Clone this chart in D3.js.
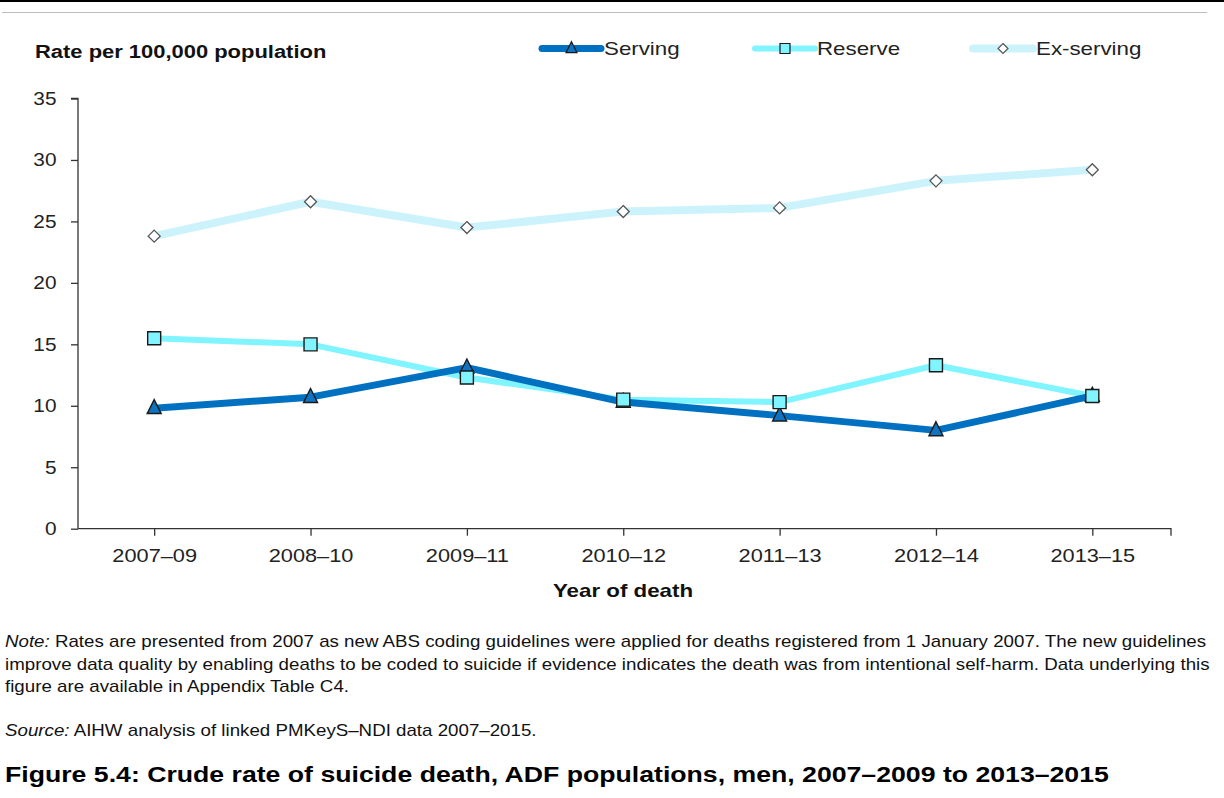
<!DOCTYPE html>
<html><head><meta charset="utf-8">
<script src="https://cdn.jsdelivr.net/npm/d3@7"></script>
<style>
html,body{margin:0;padding:0;background:#fff;}
svg{display:block;font-family:"Liberation Sans",Arial,sans-serif;}
</style></head>
<body>
<svg id="chart" width="1224" height="798"></svg>
<script>
const categories = ["2007–09","2008–10","2009–11","2010–12","2011–13","2012–14","2013–15"];
const serving   = [9.8, 10.7, 13.1, 10.3, 9.2, 8.0, 10.8];
const reserve   = [15.5, 15.0, 12.3, 10.5, 10.3, 13.3, 10.8];
const exServing = [23.8, 26.6, 24.5, 25.8, 26.1, 28.3, 29.2];
const yTicks = [0,5,10,15,20,25,30,35];
const seriesNames = ["Serving","Reserve","Ex-serving"];

(function(){
const svg = d3.select("#chart");
const W = 1224;
const pL = 78, pR = 1171, pT = 98.5, pB = 528.7;
const SX = 1.17;

const x = d3.scalePoint().domain(categories).range([76, 1170.5]).padding(0.5);
const y = d3.scaleLinear().domain([0,35]).range([pB, pT]);

// stretched text helper
function stext(parent, tx, ty, str, opts){
  const sx = opts.sx || SX;
  const t = parent.append("text")
    .attr("transform",`translate(${tx},${ty}) scale(${sx},1)`)
    .attr("font-size",opts.fs).attr("fill",opts.fill||"#111")
    .attr("text-anchor",opts.anchor||"start");
  if(opts.bold) t.attr("font-weight","bold");
  if(str!==null) t.text(str);
  return t;
}

// top rules
svg.append("rect").attr("x",0).attr("y",0).attr("width",W).attr("height",2).attr("fill","#000");
svg.append("line").attr("x1",2).attr("x2",1207).attr("y1",12.5).attr("y2",12.5).attr("stroke","#bdbdbd").attr("stroke-width",1.2);

// y axis
const yAxis = svg.append("g").attr("transform",`translate(${pL},0)`)
  .call(d3.axisLeft(y).tickValues(yTicks).tickSize(7).tickPadding(14).tickFormat(d3.format("d")));
yAxis.select(".domain").attr("stroke","#333").attr("stroke-width",1.3).attr("d",`M-7,${pT}H0V${pB}`);
yAxis.selectAll(".tick line").attr("stroke","#333").attr("stroke-width",1.3);
yAxis.selectAll(".tick text").attr("font-size",18.6).attr("fill","#222")
  .attr("font-family","Liberation Sans, Arial, sans-serif")
  .attr("x",-21.5/1.12).attr("transform","scale(1.12,1)");

// x axis
const xAxis = svg.append("g").attr("transform",`translate(0,${pB})`)
  .call(d3.axisBottom(x).tickSize(7).tickPadding(13));
xAxis.select(".domain").attr("stroke","#333").attr("stroke-width",1.3).attr("d",`M${pL},0H${pR}V7`);
xAxis.selectAll(".tick line").attr("stroke","#333").attr("stroke-width",1.3);
xAxis.selectAll(".tick text").attr("font-size",18.6).attr("fill","#222")
  .attr("font-family","Liberation Sans, Arial, sans-serif")
  .attr("transform",`scale(${SX},1)`);

// axis titles
stext(svg, 35, 57.5, "Rate per 100,000 population", {fs:18.6, bold:true, sx:1.18});
stext(svg, 623, 597, "Year of death", {fs:18.6, bold:true, sx:1.2, anchor:"middle"});

const styles = [
  {name: seriesNames[0], data: serving, color:"#0070C0", width:7, marker:"triangle", mfill:"#0E74C2", mstroke:"#1a1a1a"},
  {name: seriesNames[1], data: reserve, color:"#80F4FF", width:6, marker:"square", mfill:"#80F4FF", mstroke:"#1a1a1a"},
  {name: seriesNames[2], data: exServing, color:"#CCF3FC", width:8, marker:"diamond", mfill:"#ffffff", mstroke:"#555"}
];
function markerPath(type, s){
  if(type==="triangle") return `M0,${-s*0.62}L${s*0.5},${s*0.38}L${-s*0.5},${s*0.38}Z`;
  if(type==="square") return `M${-s/2},${-s/2}H${s/2}V${s/2}H${-s/2}Z`;
  return `M0,${-s/2}L${s/2},0L0,${s/2}L${-s/2},0Z`;
}
const mSize = {triangle:14, square:13, diamond:12};

const line = d3.line().x((d,i)=>x(categories[i])).y(d=>y(d));

[2,1,0].forEach(k=>{
  const s = styles[k];
  svg.append("path").datum(s.data).attr("d",line).attr("fill","none")
    .attr("stroke",s.color).attr("stroke-width",s.width).attr("stroke-linejoin","round");
});
function drawMarkers(s){
  svg.append("g").selectAll("path").data(s.data).join("path")
    .attr("d",markerPath(s.marker, mSize[s.marker]))
    .attr("transform",(d,i)=>`translate(${x(categories[i])},${y(d)})`)
    .attr("fill",s.mfill).attr("stroke",s.mstroke).attr("stroke-width",s.marker==="diamond"?1.3:1.4);
}
drawMarkers(styles[2]);
drawMarkers(styles[0]);
drawMarkers(styles[1]);

// legend
const legendItems = [
  {s:styles[0], x1:542, x2:601, tx:604},
  {s:styles[1], x1:755, x2:815, tx:817},
  {s:styles[2], x1:973, x2:1033, tx:1036}
];
const ly = 48.5;
const lSize = {triangle:11, square:10, diamond:10};
legendItems.forEach(it=>{
  const s = it.s;
  svg.append("line").attr("x1",it.x1).attr("x2",it.x2).attr("y1",ly).attr("y2",ly)
    .attr("stroke",s.color).attr("stroke-width",s.width).attr("stroke-linecap","round");
  svg.append("path").attr("d",markerPath(s.marker, lSize[s.marker]))
    .attr("transform",`translate(${(it.x1+it.x2)/2},${ly})`)
    .attr("fill",s.mfill).attr("stroke",s.mstroke).attr("stroke-width",1.2);
  stext(svg, it.tx, ly+6.8, s.name, {fs:18.6, sx:1.2, fill:"#222"});
});

// notes
const noteLines = [
  {it:"Note:", rest:" Rates are presented from 2007 as new ABS coding guidelines were applied for deaths registered from 1 January 2007. The new guidelines"},
  {it:"", rest:"improve data quality by enabling deaths to be coded to suicide if evidence indicates the death was from intentional self-harm. Data underlying this"},
  {it:"", rest:"figure are available in Appendix Table C4."}
];
noteLines.forEach((l,i)=>{
  const t = stext(svg, 5, 647+i*22.5, null, {fs:16, sx:1.17});
  if(l.it) t.append("tspan").attr("font-style","italic").text(l.it);
  t.append("tspan").text(l.rest);
});
const src = stext(svg, 5, 736, null, {fs:16, sx:1.17});
src.append("tspan").attr("font-style","italic").text("Source:");
src.append("tspan").text(" AIHW analysis of linked PMKeyS–NDI data 2007–2015.");

stext(svg, 5, 782, "Figure 5.4: Crude rate of suicide death, ADF populations, men, 2007–2009 to 2013–2015", {fs:22.5, bold:true, sx:1.185, fill:"#000"});
})();
</script>
</body></html>
